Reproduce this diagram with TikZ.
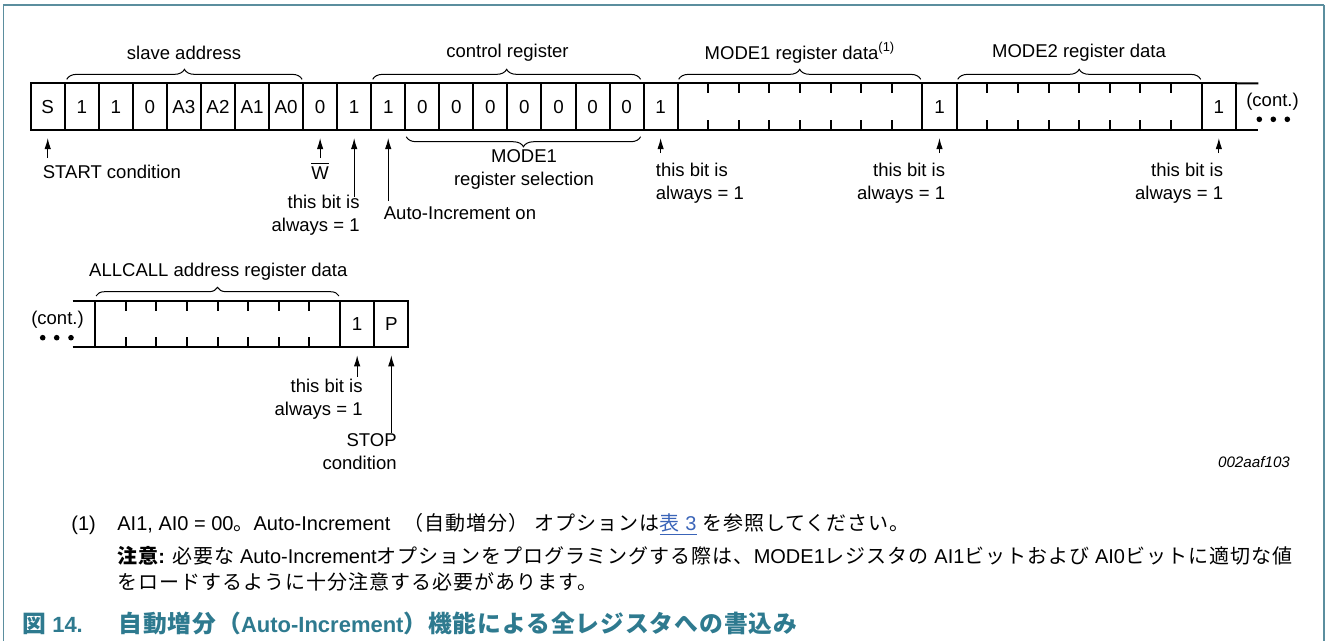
\documentclass[tikz,border=0pt]{standalone}
\usepackage{fontspec}
\setmainfont{Liberation Sans}
\newfontfamily\jpf[Scale=1.08,LetterSpace=4]{Noto Sans CJK JP}
\newfontfamily\jpn[LetterSpace=5]{Noto Sans CJK JP}
\usetikzlibrary{decorations.pathreplacing,arrows.meta,calc}
\definecolor{teal1}{RGB}{46,122,143}
\definecolor{frame1}{RGB}{91,142,158}
\definecolor{link1}{RGB}{58,100,184}
\newcommand\J[1]{{\jpf #1}}
\newcommand\K[1]{{\jpn #1}}
\begin{document}
\begin{tikzpicture}[x=0.5pt,y=-0.5pt,
  lab/.style={font=\fontsize{9.25}{11.6}\selectfont, inner sep=0pt},
  bitbox/.style={draw, line width=1pt, minimum height=23.35pt, inner sep=0pt, outer sep=0pt, anchor=west, font=\fontsize{9.4}{11}\selectfont},
  tick/.style={line width=1pt},
  br/.style={decorate, decoration={brace, amplitude=5pt, aspect=0.5}, line width=0.5pt},
  arr/.style={-{Latex[length=5.5pt,width=3.2pt]}, line width=0.5pt},
  fn/.style={font=\fontsize{10}{12}\selectfont, inner sep=0pt, anchor=base west},
  captext/.style={font=\fontsize{11}{13}\selectfont\bfseries, text=teal1, inner sep=0pt, anchor=base west},
]
\useasboundingbox (0,0) rectangle (1327,641);
% frame
\draw[frame1, line width=0.7pt] (3.5,641) -- (3.5,5) -- (1324,5);
\draw[frame1, line width=1.2pt] (1324,5) -- (1324,641);

% first strip
\foreach \t [count=\i from 0] in {S,1,1,0,A3,A2,A1,A0,0,1,1,0,0,0,0,0,0,0,1}
  \node[bitbox, minimum width=17.025pt] (b\i) at ({30.7+\i*34.05},106.7) {\t};
\node[bitbox, minimum width=122.3pt] (d1) at (677.65,106.7) {};
\node[bitbox, minimum width=17.2pt] (b19) at (922.3,106.7) {1};
\node[bitbox, minimum width=122.5pt] (d2) at (956.7,106.7) {};
\node[bitbox, minimum width=17.15pt] (b20) at (1201.7,106.7) {1};
\coordinate (e1) at (1258.3,83.35);
\coordinate (e2) at (1258.3,130.05);
\draw[tick] (b20.north east) -- (e1);
\draw[tick] (b20.south east) -- (e2);

% second strip
\coordinate (e3) at (72.7,301);
\coordinate (e4) at (72.7,347.3);
\node[bitbox, minimum width=122.5pt, minimum height=23.15pt] (d3) at (95,324.15) {};
\node[bitbox, minimum width=17.15pt, minimum height=23.15pt] (c1) at (340,324.15) {1};
\node[bitbox, minimum width=17pt, minimum height=23.15pt] (cP) at (374.3,324.15) {P};
\draw[tick] (e3) -- (d3.north west);
\draw[tick] (e4) -- (d3.south west);

% ticks
\foreach \d in {d1,d2,d3}
  \foreach \k in {1,...,7} {
    \draw[tick] ($(\d.north west)!\k/8!(\d.north east)$) -- ++(0,10);
    \draw[tick] ($(\d.south west)!\k/8!(\d.south east)$) -- ++(0,-10);
  }

% braces
\draw[br] ($(b1.north west)+(2,-4)$) -- ($(b7.north east)+(-1,-4)$);
\draw[br] ($(b10.north west)+(1.5,-4)$) -- ($(b17.north east)+(-3,-4)$);
\draw[br] ($(d1.north west)+(1,-4)$) -- ($(d1.north east)+(-1.5,-4)$);
\draw[br] ($(d2.north west)+(1,-4)$) -- ($(d2.north east)+(-1,-4)$);
\draw[br] ($(b17.south east)+(-3,6.7)$) -- ($(b11.south west)+(1,6.7)$);
\draw[br, decoration={brace, amplitude=4.3pt, aspect=0.5}] ($(d3.north west)+(1,-5)$) -- ($(d3.north east)+(-1,-5)$);

% brace labels
\node[lab] (lsa) at (184,53) {slave address};
\node[lab] (lcr) at (507.5,53) {control register};
\node[lab] (lm1) at (800,53) {MODE1 register data\textsuperscript{(1)}};
\node[lab] (lm2) at (1079,53) {MODE2 register data};
\node[lab, align=center] (lsel) at (524,169.5) {MODE1\\register selection};
\node[lab] (lac) at (218.3,271.7) {ALLCALL address register data};

% arrows and their labels
\node[lab, anchor=west] (lstart) at (42.5,172) {START condition};
\coordinate (t0) at ($(b0.south)+(0,28)$);
\draw[arr] (t0) -- ($(b0.south)+(0,8)$);

\node[lab] (lw) at (320.1,171) {$\overline{\hbox{W}}$};
\coordinate (t8) at ($(b8.south)+(0,28)$);
\draw[arr] (t8) -- ($(b8.south)+(0,8)$);

\node[lab, anchor=east, align=right] (l9) at (360,215.5) {this bit is\\always = 1};
\coordinate (t9) at ($(b9.south)+(0,67)$);
\draw[arr] (t9) -- ($(b9.south)+(0,8)$);

\node[lab, anchor=west] (l10) at (383.5,213) {Auto-Increment on};
\coordinate (t10) at ($(b10.south)+(0,71)$);
\draw[arr] (t10) -- ($(b10.south)+(0,8)$);

\node[lab, anchor=west, align=left] (l18) at (655.5,183.3) {this bit is\\always = 1};
\coordinate (t18) at ($(b18.south)+(0,23)$);
\draw[arr] (t18) -- ($(b18.south)+(0,8)$);

\node[lab, anchor=east, align=right] (l19) at (945.5,183.3) {this bit is\\always = 1};
\coordinate (t19) at ($(b19.south)+(0,23)$);
\draw[arr] (t19) -- ($(b19.south)+(0,8)$);

\node[lab, anchor=east, align=right] (l20) at (1223.5,183.3) {this bit is\\always = 1};
\coordinate (t20) at ($(b20.south)+(0,23)$);
\draw[arr] (t20) -- ($(b20.south)+(0,8)$);

\node[lab] (lcont1) at (1272.5,101.5) {(cont.)};
\foreach \x in {1259.3,1273.3,1287.3} \fill (\x,119.3) circle[radius=1.4pt];

\node[lab] (lcont2) at (57.5,320) {(cont.)};
\foreach \x in {42.7,56.7,71} \fill (\x,337.7) circle[radius=1.4pt];

\node[lab, anchor=east, align=right] (lc1) at (363,399.5) {this bit is\\always = 1};
\coordinate (tc1) at ($(c1.south)+(0,29.4)$);
\draw[arr] (tc1) -- ($(c1.south)+(0,8)$);

\node[lab, anchor=east, align=right] (lP) at (397,452) {STOP\\condition};
\coordinate (tP) at ($(cP.south)+(0,86)$);
\draw[arr] (tP) -- ($(cP.south)+(0,8)$);

\node[font=\fontsize{7.6}{9}\selectfont\itshape, inner sep=0pt] (code) at (1254,461.7) {002aaf103};

% footnote
\node[fn] (fn0) at (71,530) {(1)};
\node[fn] (fn1) at (117,530) {AI1, AI0 = 00\K{。}Auto-Increment\hspace{4pt} \K{（自動増分）}\hspace{3pt}\K{オプションは}\textcolor{link1}{\underline{\K{表} 3}} \K{を参照してください。}};
\node[fn] (fn2) at (117,563) {\textbf{\K{注意}:} \K{必要な} Auto-Increment\K{オプションをプログラミングする際は、}MODE1\K{レジスタの} AI1\K{ビットおよび} AI0\K{ビットに適切な値}};
\node[fn] (fn3) at (117,589.5) {\K{をロードするように十分注意する必要があります。}};

% caption
\node[captext] (cap0) at (22,632) {\J{図} 14.};
\node[captext] (cap1) at (118,632) {\J{自動増分（}Auto-Increment\J{）機能による全レジスタへの書込み}};
\end{tikzpicture}
\end{document}
